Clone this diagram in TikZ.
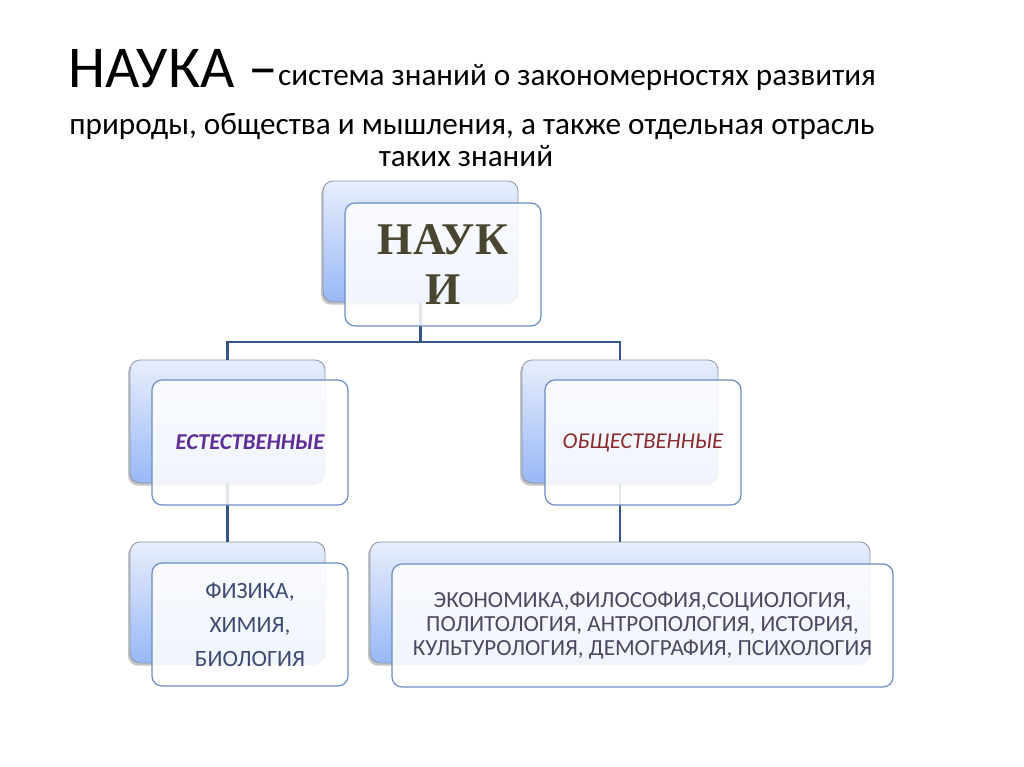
\documentclass[tikz,border=0pt]{standalone}
\usepackage{fontspec}
\setmainfont{Carlito}
\newfontfamily\serifb{Liberation Serif}
\usetikzlibrary{shadows}
\definecolor{conncol}{HTML}{34558C}
\definecolor{frontline}{HTML}{6B8CC4}
\definecolor{backline}{HTML}{8A94A8}
\definecolor{btop}{HTML}{E8EEFC}
\definecolor{bbot}{HTML}{98B8F6}
\definecolor{naukcol}{HTML}{4A4530}
\definecolor{estcol}{HTML}{5E2D98}
\definecolor{obscol}{HTML}{8A2A2E}
\definecolor{listcol}{HTML}{3E4A74}
\definecolor{list2col}{HTML}{4E4764}
\tikzset{
  backbox/.style={draw=backline, line width=0.6pt, rounded corners=7.5pt,
    top color=btop, bottom color=bbot, inner sep=0pt,
    drop shadow={shadow xshift=-1.5pt, shadow yshift=-2pt, opacity=0.45}},
  frontbox/.style={draw=frontline, line width=0.9pt, rounded corners=7.5pt,
    fill=white, fill opacity=0.86, text opacity=1, inner sep=0pt, align=center},
  conn/.style={draw=conncol, line width=1.6pt},
}
\begin{document}
\begin{tikzpicture}[x=0.75pt, y=-0.75pt]
\useasboundingbox[fill=white] (0,0) rectangle (1024,767);
% title
\node[anchor=base west, inner sep=0pt, font=\fontsize{44.5}{50}\selectfont, text=black] (t1) at (68,88) {НАУКА –};
\node[anchor=base west, inner sep=0pt, font=\fontsize{23.4}{28}\selectfont, text=black] (t2) at ([yshift=2pt]t1.base east) {система знаний о закономерностях развития};
\node[anchor=base, inner sep=0pt, font=\fontsize{23.4}{28}\selectfont, text=black] (t3) at (472,134) {природы, общества и мышления, а также отдельная отрасль};
\node[anchor=base, inner sep=0pt, font=\fontsize{23.4}{28}\selectfont, text=black] (t4) at (466,166) {таких знаний};

\coordinate (j) at (420.5,342);
% back boxes
\path (420.5,241.5) node[backbox, minimum width=146.25pt, minimum height=90.75pt] (topback) {};
\path (227.5,421.5) node[backbox, minimum width=146.25pt, minimum height=92.25pt] (lback) {};
\path (620,421.5) node[backbox, minimum width=147pt, minimum height=92.25pt] (rback) {};
\path (227.5,602.5) node[backbox, minimum width=146.25pt, minimum height=90.75pt] (lbback) {};
\path (620,602.5) node[backbox, minimum width=375pt, minimum height=90.75pt] (rbback) {};
% connectors
\draw[conn] (topback.south) -- (j);
\draw[conn] (lback.north) -- (lback.north |- j) -| (rback.north);
\draw[conn] (lback.south) -- (lbback.north);
\draw[conn] (rback.south) -- (rbback.north);

% front boxes
\node[frontbox, minimum width=147pt, minimum height=92.25pt, font=\serifb\bfseries\fontsize{34}{40}\selectfont, text=naukcol] (top) at (443,264.5) {НАУК\\[-2pt]И};
\node[frontbox, minimum width=147pt, minimum height=93.75pt, font=\bfseries\itshape\fontsize{17}{20}\selectfont, text=estcol] (est) at (250,442.5) {ЕСТЕСТВЕННЫЕ};
\node[frontbox, minimum width=147pt, minimum height=93.75pt, font=\itshape\fontsize{17}{20}\selectfont, text=obscol] (obs) at (643,442.5) {ОБЩЕСТВЕННЫЕ};
\node[frontbox, minimum width=147pt, minimum height=92.25pt, font=\fontsize{17.5}{25.5}\selectfont, text=listcol] (fiz) at (250,624.5) {ФИЗИКА,\\ХИМИЯ,\\БИОЛОГИЯ};
\node[frontbox, minimum width=375.75pt, minimum height=92.25pt, font=\fontsize{17.3}{18}\selectfont, text=list2col] (eco) at (642.5,625.5) {ЭКОНОМИКА,ФИЛОСОФИЯ,СОЦИОЛОГИЯ,\\ПОЛИТОЛОГИЯ, АНТРОПОЛОГИЯ, ИСТОРИЯ,\\КУЛЬТУРОЛОГИЯ, ДЕМОГРАФИЯ, ПСИХОЛОГИЯ};
\end{tikzpicture}
\end{document}
